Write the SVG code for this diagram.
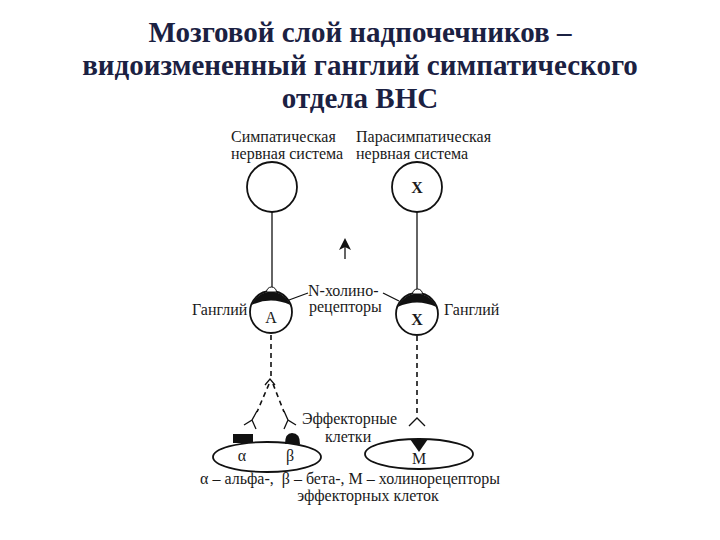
<svg xmlns="http://www.w3.org/2000/svg" width="720" height="540" viewBox="0 0 720 540">
<defs>
<style>
.title{font-family:"Liberation Serif","Times New Roman",serif;font-weight:bold;font-size:29px;fill:#1b2142;text-anchor:middle}
.lbl{font-family:"Liberation Serif","Times New Roman",serif;font-size:16px;fill:#1a1a1a}
.mid{text-anchor:middle}
.cell{fill:#fff;stroke:#111;stroke-width:1.8}
.line{stroke:#111;stroke-width:1.3;fill:none}
.dash{stroke:#111;stroke-width:1.6;fill:none;stroke-dasharray:5 4}
.blk{fill:#111;stroke:none}
</style>
</defs>
<rect width="720" height="540" fill="#fff"/>
<g id="title">
<text class="title" x="360" y="42">Мозговой слой надпочечников –</text>
<text class="title" x="360" y="75">видоизмененный ганглий симпатического</text>
<text class="title" x="360" y="108">отдела ВНС</text>
</g>
<g id="connectors">
<line class="line" x1="272" y1="211" x2="272" y2="288"/>
<line class="line" x1="417" y1="212" x2="417" y2="290"/>
<line class="line" x1="289" y1="300" x2="308" y2="293"/>
<line class="line" x1="383" y1="293" x2="399" y2="301"/>
<line class="line" x1="345" y1="259" x2="345" y2="247" stroke-width="2"/>
<path class="blk" d="M345,238 L351,250 L345,247 L339,250 Z"/>
<line class="dash" x1="271" y1="335" x2="271" y2="378"/>
<line class="dash" x1="269" y1="384" x2="257" y2="412"/>
<line class="dash" x1="273" y1="384" x2="284" y2="412"/>
<path class="line" d="M265,385 L270,379 L275,385"/>
<path class="line" d="M257,411 L252,420 L244,425 M252,420 L256,429"/>
<path class="line" d="M284,411 L288,420 L296,425 M288,420 L284,429"/>
<line class="dash" x1="417" y1="336" x2="417" y2="413"/>
<path class="line" d="M409,426 L417,418 L425,426"/>
</g>
<g id="sym-neuron">
<text class="lbl" x="231" y="142">Симпатическая</text>
<text class="lbl" x="231" y="159">нервная система</text>
<circle class="cell" cx="272" cy="187" r="25"/>
</g>
<g id="parasym-neuron">
<text class="lbl" x="356" y="142">Парасимпатическая</text>
<text class="lbl" x="356" y="159">нервная система</text>
<circle class="cell" cx="417" cy="187" r="25"/>
<text class="lbl mid" x="417" y="193" font-weight="bold" font-size="15">X</text>
</g>
<g id="ganglion-A">
<circle class="cell" cx="271" cy="312" r="21"/>
<path class="blk" d="M251.5,305 A21,21 0 0 1 290.5,305 Q271,296 251.5,305 Z"/>
<path d="M266.5,292 A5,5 0 0 1 276.5,292 Z" fill="#fff" stroke="#111" stroke-width="1"/>
<text class="lbl mid" x="271" y="323" font-size="15">A</text>
<text class="lbl" x="192" y="315">Ганглий</text>
</g>
<g id="ganglion-X">
<circle class="cell" cx="417" cy="314" r="21"/>
<path class="blk" d="M397.5,307 A21,21 0 0 1 436.5,307 Q417,298 397.5,307 Z"/>
<path d="M412.5,294 A5,5 0 0 1 422.5,294 Z" fill="#fff" stroke="#111" stroke-width="1"/>
<text class="lbl mid" x="417" y="325" font-size="15" font-weight="bold">X</text>
<text class="lbl" x="444" y="315">Ганглий</text>
</g>
<g id="n-receptors-label">
<text class="lbl" x="308" y="296">N-холино-</text>
<text class="lbl" x="309" y="312">рецепторы</text>
</g>
<g id="effector-left">
<ellipse class="cell" cx="267" cy="457" rx="54" ry="15"/>
<rect class="blk" x="233" y="434" width="20" height="9"/>
<path class="blk" d="M285,444 Q285,433 292,433 Q300,433 300,444 Z"/>
<text class="lbl mid" x="242" y="461" font-size="15">α</text>
<text class="lbl mid" x="290" y="461" font-size="15">β</text>
</g>
<g id="effector-right">
<ellipse class="cell" cx="419" cy="454" rx="54" ry="15"/>
<path class="blk" d="M410,439 L428,439 L419,452 Z"/>
<text class="lbl mid" x="419" y="464" font-size="15">M</text>
</g>
<g id="effector-label">
<text class="lbl" x="302" y="424" font-size="15">Эффекторные</text>
<text class="lbl" x="325" y="442" font-size="15">клетки</text>
</g>
<g id="legend">
<text class="lbl mid" x="350" y="484" font-size="17" xml:space="preserve">α – альфа-,  β – бета-, М – холинорецепторы</text>
<text class="lbl mid" x="368" y="501" font-size="17">эффекторных клеток</text>
</g>
</svg>
